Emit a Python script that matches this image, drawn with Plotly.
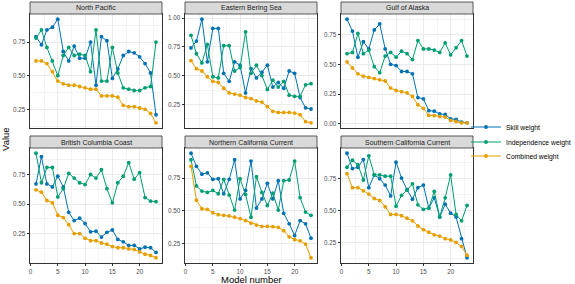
import plotly.graph_objects as go

# ---------------- data ----------------
models = list(range(1, 24))
regions = ["North Pacific", "Eastern Bering Sea", "Gulf of Alaska",
           "British Columbia Coast", "Northern California Current", "Southern California Current"]
series_names = ["Skill weight", "Independence weight", "Combined weight"]

np_skill = [0.79, 0.73, 0.84, 0.86, 0.92, 0.68, 0.61, 0.72, 0.63, 0.63, 0.75, 0.43, 0.79, 0.76,
            0.48, 0.55, 0.65, 0.68, 0.67, 0.64, 0.59, 0.52, 0.21]
np_indep = [0.78, 0.84, 0.71, 0.61, 0.50, 0.65, 0.71, 0.65, 0.66, 0.65, 0.53, 0.84, 0.46, 0.46,
            0.71, 0.52, 0.41, 0.40, 0.39, 0.39, 0.41, 0.42, 0.75]
np_comb = [0.61, 0.61, 0.59, 0.53, 0.46, 0.44, 0.43, 0.43, 0.42, 0.41, 0.40, 0.40, 0.35, 0.35,
           0.35, 0.34, 0.28, 0.27, 0.27, 0.26, 0.25, 0.22, 0.15]

ebs_skill = [0.74, 0.80, 0.99, 0.62, 0.91, 0.91, 0.52, 0.45, 0.62, 0.59, 0.35, 0.56, 0.48, 0.53,
             0.59, 0.40, 0.44, 0.39, 0.54, 0.52, 0.31, 0.22, 0.21]
ebs_indep = [0.85, 0.69, 0.61, 0.77, 0.49, 0.48, 0.76, 0.76, 0.54, 0.57, 0.88, 0.52, 0.59, 0.50,
             0.38, 0.46, 0.40, 0.45, 0.33, 0.32, 0.32, 0.42, 0.43]
ebs_comb = [0.63, 0.56, 0.54, 0.49, 0.45, 0.44, 0.39, 0.35, 0.34, 0.33, 0.31, 0.30, 0.28, 0.27,
            0.23, 0.19, 0.18, 0.18, 0.18, 0.175, 0.16, 0.10, 0.09]

goa_skill = [0.88, 0.78, 0.56, 0.69, 0.63, 0.79, 0.84, 0.63, 0.50, 0.49, 0.44, 0.44, 0.42, 0.22,
             0.21, 0.11, 0.106, 0.083, 0.078, 0.042, 0.036, 0.014, 0.008]
goa_indep = [0.59, 0.60, 0.76, 0.59, 0.62, 0.48, 0.43, 0.57, 0.60, 0.56, 0.61, 0.59, 0.54, 0.70,
             0.63, 0.63, 0.62, 0.60, 0.68, 0.58, 0.64, 0.70, 0.57]
goa_comb = [0.52, 0.47, 0.42, 0.40, 0.39, 0.38, 0.37, 0.36, 0.30, 0.28, 0.27, 0.26, 0.23, 0.16,
            0.13, 0.07, 0.069, 0.061, 0.056, 0.028, 0.019, 0.008, 0.008]

bcc_skill = [0.67, 0.90, 0.67, 0.645, 0.735, 0.645, 0.43, 0.36, 0.38, 0.335, 0.265, 0.27, 0.22,
             0.26, 0.28, 0.20, 0.18, 0.15, 0.15, 0.12, 0.135, 0.13, 0.09]
bcc_indep = [0.93, 0.68, 0.81, 0.81, 0.56, 0.63, 0.76, 0.72, 0.68, 0.665, 0.75, 0.72, 0.79, 0.63,
             0.51, 0.68, 0.735, 0.85, 0.71, 0.765, 0.555, 0.525, 0.52]
bcc_comb = [0.62, 0.60, 0.53, 0.51, 0.405, 0.385, 0.325, 0.25, 0.25, 0.21, 0.19, 0.19, 0.17,
            0.16, 0.14, 0.13, 0.13, 0.12, 0.115, 0.095, 0.075, 0.065, 0.045]

ncc_skill = [0.94, 0.84, 0.78, 0.79, 0.74, 0.745, 0.63, 0.74, 0.89, 0.59, 0.655, 0.88, 0.52,
             0.59, 0.71, 0.59, 0.73, 0.48, 0.40, 0.31, 0.425, 0.40, 0.29]
ncc_indep = [0.89, 0.69, 0.65, 0.64, 0.655, 0.63, 0.74, 0.62, 0.505, 0.745, 0.625, 0.45, 0.76,
             0.64, 0.54, 0.635, 0.505, 0.73, 0.735, 0.88, 0.60, 0.49, 0.465]
ncc_comb = [0.84, 0.58, 0.515, 0.51, 0.485, 0.47, 0.465, 0.46, 0.45, 0.44, 0.425, 0.405, 0.39,
            0.38, 0.38, 0.378, 0.373, 0.347, 0.30, 0.28, 0.27, 0.245, 0.14]

scc_skill = [0.95, 0.83, 0.84, 0.90, 0.68, 0.78, 0.75, 0.70, 0.615, 0.88, 0.755, 0.665, 0.59,
             0.68, 0.70, 0.52, 0.60, 0.45, 0.55, 0.48, 0.45, 0.28, 0.13]
scc_indep = [0.84, 0.895, 0.86, 0.74, 0.93, 0.78, 0.78, 0.77, 0.77, 0.535, 0.62, 0.66, 0.71,
             0.545, 0.51, 0.52, 0.65, 0.45, 0.60, 0.78, 0.47, 0.42, 0.54]
scc_comb = [0.79, 0.68, 0.68, 0.655, 0.63, 0.595, 0.58, 0.53, 0.47, 0.47, 0.46, 0.44, 0.42,
            0.38, 0.35, 0.33, 0.31, 0.30, 0.28, 0.27, 0.25, 0.22, 0.15]

region_data = [
    (np_skill, np_indep, np_comb),
    (ebs_skill, ebs_indep, ebs_comb),
    (goa_skill, goa_indep, goa_comb),
    (bcc_skill, bcc_indep, bcc_comb),
    (ncc_skill, ncc_indep, ncc_comb),
    (scc_skill, scc_indep, scc_comb),
]
colors = ["#0072B2", "#009E73", "#E69F00"]
x_ticks = [0, 5, 10, 15, 20]

# ---------------- layout geometry (pixels) ----------------
W, H = 575, 284
col_px = [(30, 162), (185, 317), (341, 473)]
row_px = [(14, 128), (148, 263)]
strip_px = [(2, 14), (136, 148)]
FONT = "Liberation Sans, Arial, sans-serif"


def px_x(p):
    return p / W


def px_y(p):
    return 1 - p / H


fig = go.Figure()
layout = {}
shapes = []
annotations = []

for i, region in enumerate(regions):
    r, c = divmod(i, 3)
    k = i + 1
    xa = "x" if k == 1 else f"x{k}"
    ya = "y" if k == 1 else f"y{k}"
    for s, (vals, name, col) in enumerate(zip(region_data[i], series_names, colors)):
        fig.add_trace(go.Scatter(
            x=models, y=vals, mode="lines+markers", name=name,
            line=dict(color=col, width=1), marker=dict(color=col, size=3.8),
            xaxis=xa, yaxis=ya, showlegend=(i == 0),
            legend="legend" if s == 0 else f"legend{s + 1}",
        ))
    allv = [v for ser in region_data[i] for v in ser]
    lo, hi = min(allv), max(allv)
    span = hi - lo
    yr = [lo - 0.05 * span, hi + 0.05 * span]

    x0, x1 = col_px[c]
    t, b = row_px[r]
    bottom = (r == 1)
    layout["xaxis" if k == 1 else f"xaxis{k}"] = dict(
        domain=[px_x(x0), px_x(x1)], range=[-0.1, 24.1], anchor=ya, automargin=False,
        tickvals=x_ticks, showticklabels=bottom, ticks="outside" if bottom else "",
        ticklen=2.5, tickwidth=0.8, tickcolor="#333333",
        tickfont=dict(size=6.3, color="#4D4D4D", family=FONT),
        showgrid=True, gridcolor="#EBEBEB", gridwidth=0.8,
        minor=dict(tickvals=[2.5, 7.5, 12.5, 17.5, 22.5], showgrid=True,
                   gridcolor="#F3F3F3", gridwidth=0.5, ticks=""),
        showline=True, mirror=True, linecolor="#333333", linewidth=0.8,
        zeroline=False,
    )
    layout["yaxis" if k == 1 else f"yaxis{k}"] = dict(
        domain=[px_y(b), px_y(t)], range=yr, anchor=xa, automargin=False,
        dtick=0.25, tick0=0, tickformat=".2f", ticks="outside",
        ticklen=2.5, tickwidth=0.8, tickcolor="#333333",
        tickfont=dict(size=6.3, color="#4D4D4D", family=FONT),
        showgrid=True, gridcolor="#EBEBEB", gridwidth=0.8,
        minor=dict(dtick=0.125, tick0=0.125, showgrid=True,
                   gridcolor="#F3F3F3", gridwidth=0.5, ticks=""),
        showline=True, mirror=True, linecolor="#333333", linewidth=0.8,
        zeroline=False,
    )
    st, sb = strip_px[r]
    shapes.append(dict(type="rect", xref="paper", yref="paper",
                       x0=px_x(x0), x1=px_x(x1), y0=px_y(sb), y1=px_y(st),
                       fillcolor="#D9D9D9", line=dict(color="#333333", width=0.8)))
    annotations.append(dict(text=region, xref="paper", yref="paper",
                            x=px_x((x0 + x1) / 2), y=px_y((st + sb) / 2),
                            xanchor="center", yanchor="middle", showarrow=False,
                            font=dict(size=7, color="#1A1A1A", family=FONT)))

annotations.append(dict(text="Value", xref="paper", yref="paper", x=px_x(5), y=px_y(139),
                        textangle=-90, xanchor="center", yanchor="middle", showarrow=False,
                        borderpad=0, font=dict(size=9.5, color="#000000", family=FONT)))
annotations.append(dict(text="Model number", xref="paper", yref="paper",
                        x=px_x(251), y=px_y(279.5), xanchor="center", yanchor="middle",
                        borderpad=0, showarrow=False,
                        font=dict(size=9.5, color="#000000", family=FONT)))

legend_y = [127, 142, 156]
for s in range(3):
    key = "legend" if s == 0 else f"legend{s + 1}"
    layout[key] = dict(x=px_x(466), y=px_y(legend_y[s]), xanchor="left", yanchor="middle",
                       bgcolor="rgba(0,0,0,0)", borderwidth=0,
                       font=dict(size=6.8, color="#000000", family=FONT))

fig.update_layout(
    width=W, height=H, margin=dict(l=0, r=0, t=0, b=0, autoexpand=False),
    paper_bgcolor="white", plot_bgcolor="white",
    shapes=shapes, annotations=annotations,
    font=dict(family=FONT),
    **layout,
)

fig.write_html("out.html", config={"displayModeBar": False},
               post_script="document.body.style.margin='0px';document.body.style.padding='0px';")
